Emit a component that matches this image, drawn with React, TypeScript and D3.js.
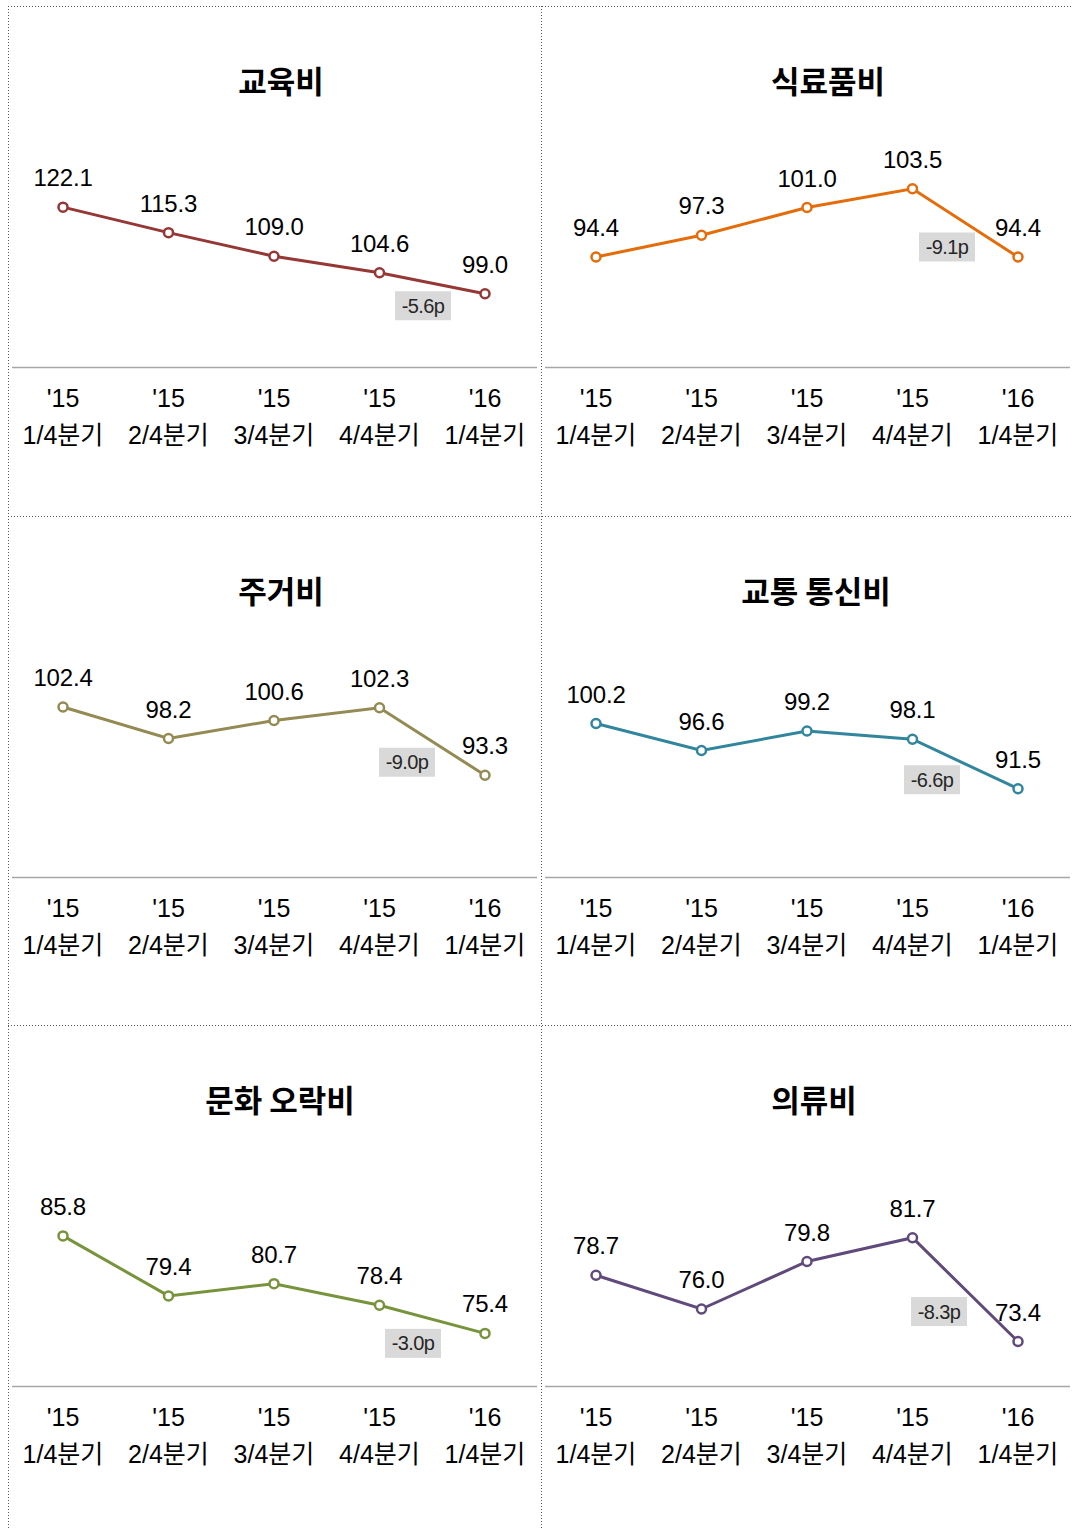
import * as d3 from 'd3';

// x categories
const yearLabels = ["'15", "'15", "'15", "'15", "'16"];
const quarterLabels = ['1/4분기', '2/4분기', '3/4분기', '4/4분기', '1/4분기'];

// panel titles, in reading order
const panelTitles = ['교육비', '식료품비', '주거비', '교통 통신비', '문화 오락비', '의류비'];

// series values per panel
const educationValues = [122.1, 115.3, 109.0, 104.6, 99.0];
const foodValues = [94.4, 97.3, 101.0, 103.5, 94.4];
const housingValues = [102.4, 98.2, 100.6, 102.3, 93.3];
const transportValues = [100.2, 96.6, 99.2, 98.1, 91.5];
const cultureValues = [85.8, 79.4, 80.7, 78.4, 75.4];
const clothingValues = [78.7, 76.0, 79.8, 81.7, 73.4];

// change vs previous quarter
const changeLabels = ['-5.6p', '-9.1p', '-9.0p', '-6.6p', '-3.0p', '-8.3p'];

// value axis bounds per panel
const yDomains: [number, number][] = [
  [80, 140],
  [80, 110],
  [80, 110],
  [80, 110],
  [70, 94],
  [70, 88],
];

const seriesList = [educationValues, foodValues, housingValues, transportValues, cultureValues, clothingValues];
const lineColors = ['#953735', '#E46C0A', '#948A54', '#31859C', '#77933C', '#604A7B'];

// layout
const WIDTH = 1074;
const HEIGHT = 1529;
const colX = [8, 541];
const rowY = [6, 516, 1025];
const titleCenters = [273, 287, 273, 275, 272, 273];
const badgeOffsets = [
  [-62, 12],
  [-71, -10],
  [-78, -13],
  [-86, -9],
  [-72, 10],
  [-79, -30],
];

const numFont = "'Liberation Sans', 'Noto Sans CJK KR', sans-serif";
const titleFont = "'Noto Sans CJK KR', sans-serif";

function Panel({ index }: { index: number }) {
  const x0 = colX[index % 2];
  const y0 = rowY[Math.floor(index / 2)];
  const values = seriesList[index];
  const color = lineColors[index];

  const x = d3.scalePoint<number>()
    .domain(d3.range(values.length))
    .range([x0 + 55, x0 + 477]);

  const y = d3.scaleLinear()
    .domain(yDomains[index])
    .range([y0 + 359, y0 + 134]);

  const line = d3.line<number>()
    .x((_, i) => x(i) as number)
    .y((v) => y(v));

  const lastX = x(values.length - 1) as number;
  const lastY = y(values[values.length - 1]);
  const [bdx, bdy] = badgeOffsets[index];
  const bw = 56;
  const bh = 29;

  return (
    <g>
      <text
        x={x0 + titleCenters[index]}
        y={y0 + 87}
        textAnchor="middle"
        fontFamily={titleFont}
        fontWeight={700}
        fontSize={31}
        fill="#000"
      >
        {panelTitles[index]}
      </text>

      <line
        x1={x0 + 4}
        x2={x0 + 529}
        y1={y0 + 361.5}
        y2={y0 + 361.5}
        stroke="#a6a6a6"
        strokeWidth={1.5}
      />

      {values.map((_, i) => (
        <g key={i} fontFamily={numFont} fontSize={25} fill="#000" textAnchor="middle">
          <text x={x(i)} y={y0 + 401}>{yearLabels[i]}</text>
          <text x={x(i)} y={y0 + 438}>{quarterLabels[i]}</text>
        </g>
      ))}

      <path d={line(values) ?? ''} fill="none" stroke={color} strokeWidth={3} />

      {values.map((v, i) => (
        <circle key={i} cx={x(i)} cy={y(v)} r={4.5} fill="#fff" stroke={color} strokeWidth={2.5} />
      ))}

      {values.map((v, i) => (
        <text
          key={i}
          x={x(i)}
          y={y(v) - 21}
          textAnchor="middle"
          fontFamily={numFont}
          fontSize={24}
          letterSpacing={-0.2}
          fill="#000"
        >
          {v.toFixed(1)}
        </text>
      ))}

      <rect
        x={lastX + bdx - bw / 2}
        y={lastY + bdy - bh / 2}
        width={bw}
        height={bh}
        fill="#d9d9d9"
      />
      <text
        x={lastX + bdx}
        y={lastY + bdy + 7}
        textAnchor="middle"
        fontFamily={numFont}
        fontSize={20}
        letterSpacing={-0.6}
        fill="#262626"
      >
        {changeLabels[index]}
      </text>
    </g>
  );
}

export default function App() {
  const dotted = { stroke: '#555', strokeWidth: 1, strokeDasharray: '1 2' };
  return (
    <svg
      width={WIDTH}
      height={HEIGHT}
      viewBox={`0 0 ${WIDTH} ${HEIGHT}`}
      style={{ position: 'absolute', left: 0, top: 0, display: 'block', background: '#fff' }}
    >
      <rect width={WIDTH} height={HEIGHT} fill="#fff" />
      {rowY.map((ry) => (
        <line key={ry} x1={8} x2={1072} y1={ry + 0.5} y2={ry + 0.5} {...dotted} />
      ))}
      {colX.map((cx) => (
        <line key={cx} x1={cx + 0.5} x2={cx + 0.5} y1={6} y2={HEIGHT} {...dotted} />
      ))}
      {panelTitles.map((_, i) => (
        <Panel key={i} index={i} />
      ))}
    </svg>
  );
}
